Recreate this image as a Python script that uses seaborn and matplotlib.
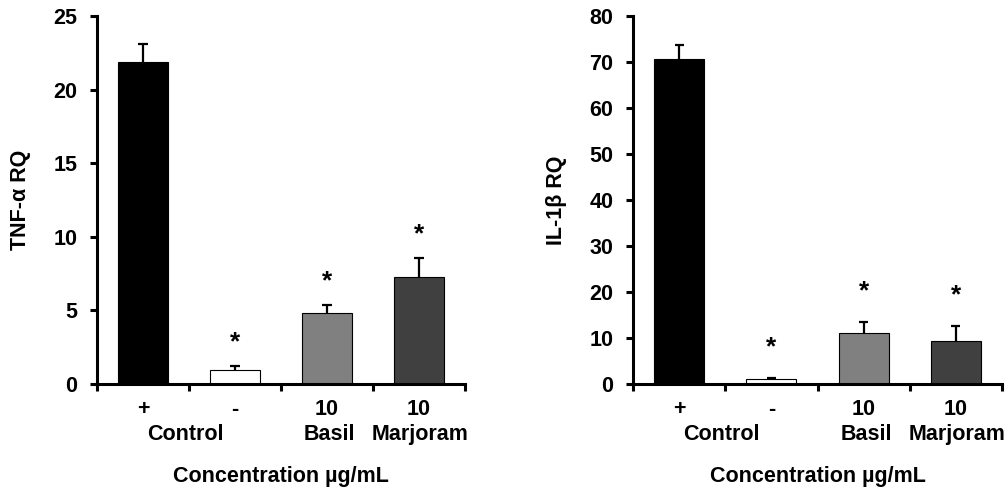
import numpy as np
import pandas as pd
import seaborn as sns
import matplotlib.pyplot as plt
import matplotlib.transforms as mtransforms

# 数据
groups = ['Control +', 'Control -', 'Basil 10', 'Marjoram 10']
top_labels = ['+', '-', '10', '10']
sub_labels = ['Control', 'Basil', 'Marjoram']
sub_pos = [0.46, 2.03, 3.01]
bar_colors = ['#000000', '#ffffff', '#808080', '#404040']
stars = [False, True, True, True]

tnf_mean = [21.85, 0.95, 4.85, 7.29]
tnf_err = [1.22, 0.29, 0.55, 1.25]
il1b_mean = [70.6, 1.0, 11.0, 9.4]
il1b_err = [3.2, 0.3, 2.5, 3.3]

FS = 15.5

sns.set_theme(style='white')
plt.rcParams['font.family'] = ['Liberation Sans', 'DejaVu Sans']
plt.rcParams['font.weight'] = 'bold'
plt.rcParams['text.color'] = 'black'
plt.rcParams['axes.labelcolor'] = 'black'
plt.rcParams['xtick.color'] = 'black'
plt.rcParams['ytick.color'] = 'black'

fig = plt.figure(figsize=(10.08, 4.96), dpi=100)
ax1 = fig.add_axes([97 / 1008, 1 - 384 / 496, 368 / 1008, 368 / 496])
ax2 = fig.add_axes([633 / 1008, 1 - 384 / 496, 369 / 1008, 368 / 496])


def draw_panel(ax, mean, err, ymax, ystep, ylabel, star_off):
    df = pd.DataFrame({'group': groups, 'value': mean})
    sns.barplot(data=df, x='group', y='value', hue='group', palette=bar_colors,
                width=0.54, edgecolor='black', linewidth=0.8, legend=False, ax=ax)
    x = np.arange(len(groups))
    top = np.array(mean) + np.array(err)
    # 只画上半部分误差线
    ax.vlines(x, mean, top, color='black', linewidth=1.6, zorder=3)
    ax.hlines(top, x - 0.05, x + 0.05, color='black', linewidth=1.6, zorder=3)
    for xi, t, s in zip(x, top, stars):
        if s:
            ax.annotate('*', (xi, t), xytext=(0, star_off), textcoords='offset points',
                        ha='center', va='center', fontsize=19, fontweight='bold')

    ax.set_xlim(-0.5, 3.5)
    ax.set_ylim(0, ymax)
    ax.set_yticks(np.arange(0, ymax + 1, ystep))
    ax.set_xticks(np.arange(-0.5, 4, 1))
    ax.set_xticklabels([])
    ax.set_xlabel('')
    ax.set_ylabel(ylabel, fontsize=FS, fontweight='bold', labelpad=16)
    for side in ['top', 'right']:
        ax.spines[side].set_visible(False)
    for side in ['left', 'bottom']:
        ax.spines[side].set_linewidth(2.2)
        ax.spines[side].set_color('black')
    ax.tick_params(axis='both', direction='out', length=5, width=2.2, color='black',
                   left=True, bottom=True)
    ax.tick_params(axis='y', labelsize=FS, pad=9)
    for lab in ax.get_yticklabels():
        lab.set_fontweight('bold')

    trans = mtransforms.blended_transform_factory(ax.transData, ax.transAxes)
    for xi, t in zip(x, top_labels):
        ax.text(xi, -0.084, t, transform=trans, ha='center', va='baseline',
                fontsize=FS, fontweight='bold')
    for p, t in zip(sub_pos, sub_labels):
        ax.text(p, -0.152, t, transform=trans, ha='center', va='baseline',
                fontsize=FS, fontweight='bold')
    ax.text(0.5, -0.265, 'Concentration µg/mL', transform=ax.transAxes, ha='center',
            va='baseline', fontsize=FS, fontweight='bold')


draw_panel(ax1, tnf_mean, tnf_err, 25, 5, 'TNF-α RQ', 17)
draw_panel(ax2, il1b_mean, il1b_err, 80, 10, 'IL-1β RQ', 22)

fig.savefig('out.png', dpi=100)
